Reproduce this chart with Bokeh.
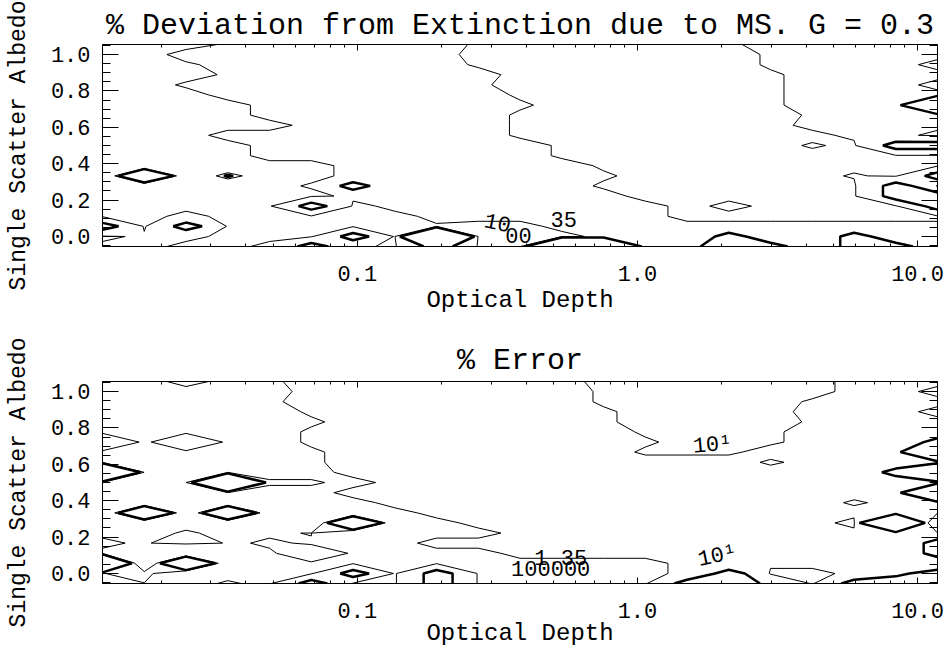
import numpy as np
from bokeh.plotting import figure
from bokeh.models import LogAxis, LinearAxis, FixedTicker, PrintfTickFormatter
from bokeh.layouts import column
from bokeh.embed import file_html
from bokeh.resources import INLINE
from bokeh.core.properties import value

# ---------------- data ----------------
# optical depth grid (log spaced, 21 columns) and single scatter albedo grid (21 rows)
TAU = [0.0123, 0.01734, 0.02443, 0.03444, 0.04856, 0.06843, 0.09645, 0.1359,
       0.1916, 0.2701, 0.3806, 0.5366, 0.7562, 1.066, 1.503, 2.118, 2.985,
       4.208, 5.932, 8.360, 11.78]
ALBEDO = [-0.055, 0.0, 0.056, 0.111, 0.167, 0.222, 0.278, 0.333, 0.389, 0.444,
          0.5, 0.556, 0.611, 0.667, 0.722, 0.778, 0.833, 0.889, 0.944, 1.0, 1.055]

# each character of a row is one grid value (percent), decoded with this table
CODE_CHARS = "x.,io+*h#"
CODE_VALUES = [-300, 5, 8, 12, 15, 40, 80, 150, 900]

LEVELS = [10, 100]
LEVEL_WIDTHS = [1.0, 2.5]

# "% Deviation from Extinction due to MS" : rows from albedo 1.055 (top) down to -0.055
DEV_ROWS = [
    "...iooooo,.....,ooooo",
    "..ooooooo.......ioooo",
    "..,oooooo,......iooo.",
    "...ioooooo......,oooo",
    "..iooooooi......,ooo.",
    "...ooooooo,.....,oooo",
    "....ooooooi.....,ooo#",
    "....oooooo,......iooo",
    ".....ooooo,......oooo",
    "...ooooooo,.......oo.",
    "....ooooooo,.....i.hh",
    "....ooooooo,.........",
    ".x.x..oooooo,........",
    "x#xhx.ooooooi.....i.h",
    ".x.x.ihooooo,......h.",
    "......ooooooo......hh",
    ".....h.ooooooo.o....h",
    "..o.....oooooo.......",
    "h.h.....,..oooooooooo",
    ".oo...h.#...ooohoohoo",
    "oo..oho.h..##o*hhohho",
]

# "% Error"
ERR_ROWS = [
    "..o.,ooooooo......ooo",
    ".....ooooooo,.....oo.",
    "....,ooooooo,....iooo",
    ".....iooooooi....ooo.",
    ".....,ooooooi....iooo",
    ".....iooooooo,..,oooo",
    "+.+..ioooooooi..,oooh",
    ".....,ooooooo,,,oooo#",
    ".....,oooooooooo,oooo",
    "#.....oooooooooooooh#",
    "...#ii.oooooooooooooo",
    "......oooooooooooooo#",
    ".x.x...ooooooooooo,oo",
    "x#x#x.x.ooooooooooooo",
    ".x.x.x#x.ooooooooo.#x",
    "..i..ix...ooooooooooo",
    "o.+.o...ooooooooooooh",
    "..x..+....ooooooooooh",
    "#x#x..........ooooooo",
    ".*x...h.h.....oh..o*h",
    "...i.h..h.....hh*.hhh",
]

# contour labels
DEV_LABEL_TEXT = ["10", "00", "35"]
DEV_LABEL_X = [0.317, 0.376, 0.545]
DEV_LABEL_Y = [0.077, 0.005, 0.093]
DEV_LABEL_ANGLE = [-12, 0, 0]

ERR_LABEL_TEXT = ["10\u00b9", "10\u00b9", "100000", "1.35"]
ERR_LABEL_X = [1.856, 1.933, 0.49, 0.532]
ERR_LABEL_Y = [0.703, 0.093, 0.027, 0.088]
ERR_LABEL_ANGLE = [5, 12, 0, 0]

X_TICKS = [0.1, 1.0, 10.0]
X_TICK_LABELS = ["0.1", "1.0", "10.0"]
X_MINOR = [0.02, 0.03, 0.04, 0.05, 0.06, 0.07, 0.08, 0.09,
           0.2, 0.3, 0.4, 0.5, 0.6, 0.7, 0.8, 0.9,
           2, 3, 4, 5, 6, 7, 8, 9]
Y_TICKS = [0.0, 0.2, 0.4, 0.6, 0.8, 1.0]
Y_TICK_LABELS = ["0.0", "0.2", "0.4", "0.6", "0.8", "1.0"]
Y_MINOR = [-0.05, 0.0, 0.05, 0.1, 0.15, 0.2, 0.25, 0.3, 0.35, 0.4, 0.45, 0.5,
           0.55, 0.6, 0.65, 0.7, 0.75, 0.8, 0.85, 0.9, 0.95, 1.0, 1.05]

FONT = "Liberation Mono"


def decode(rows):
    table = dict(zip(CODE_CHARS, CODE_VALUES))
    for r in rows:
        assert len(r) == len(TAU), (r, len(r))
    grid = [[table[c] for c in row] for row in reversed(rows)]
    return np.array(grid, dtype=float)


def style_axis(ax, tick_in, minor_in, labels):
    ax.axis_line_color = "black"
    ax.major_tick_line_color = "black"
    ax.minor_tick_line_color = "black"
    ax.major_tick_in = tick_in
    ax.major_tick_out = 0
    ax.minor_tick_in = minor_in
    ax.minor_tick_out = 0
    if labels:
        ax.major_label_text_font = FONT
        ax.major_label_text_font_size = "22px"
        ax.major_label_text_color = "black"
        ax.axis_label_text_font = FONT
        ax.axis_label_text_font_style = "normal"
        ax.axis_label_text_color = "black"
    else:
        ax.major_label_text_font_size = "1px"
        ax.major_label_text_alpha = 0
        ax.major_label_standoff = 0


def make_panel(title, rows, lt, lx, ly, la, height, btop, bbottom, tstand, xlab_stand):
    p = figure(width=946, height=height, x_axis_type="log",
               x_range=(TAU[0], TAU[-1]), y_range=(ALBEDO[0], ALBEDO[-1]),
               output_backend="svg", toolbar_location=None,
               min_border_left=102, min_border_right=9,
               min_border_top=btop, min_border_bottom=bbottom,
               title=title)
    p.background_fill_color = "white"
    p.border_fill_color = "white"
    p.outline_line_color = "black"
    p.outline_line_width = 1
    p.grid.visible = False

    p.title.text_font = FONT
    p.title.text_font_size = "30px"
    p.title.text_font_style = "normal"
    p.title.text_color = "black"
    p.title.align = "center"
    p.title.standoff = tstand

    z = decode(rows)
    p.contour(TAU, ALBEDO, z, LEVELS, line_color="black", line_width=LEVEL_WIDTHS)

    p.text(x=lx, y=ly, text=lt, angle=la, angle_units="deg",
           text_font=value(FONT), text_font_size="22px",
           text_align="center", text_baseline="middle", text_color="black")

    xt = FixedTicker(ticks=X_TICKS, minor_ticks=X_MINOR)
    yt = FixedTicker(ticks=Y_TICKS, minor_ticks=Y_MINOR)

    xa = p.xaxis[0]
    xa.ticker = xt
    xa.formatter = PrintfTickFormatter(format="%.1f")
    xa.axis_label = "Optical Depth"
    style_axis(xa, 6, 3, True)
    xa.axis_label_text_font_size = "24px"
    xa.major_label_standoff = 19
    xa.axis_label_standoff = xlab_stand

    ya = p.yaxis[0]
    ya.ticker = yt
    ya.formatter = PrintfTickFormatter(format="%.1f")
    ya.axis_label = "Single Scatter Albedo"
    style_axis(ya, 16, 8, True)
    ya.axis_label_text_font_size = "23px"
    ya.major_label_standoff = 12
    ya.axis_label_standoff = 16

    top = LogAxis(ticker=FixedTicker(ticks=X_TICKS, minor_ticks=X_MINOR))
    style_axis(top, 6, 3, False)
    p.add_layout(top, "above")
    right = LinearAxis(ticker=FixedTicker(ticks=Y_TICKS, minor_ticks=Y_MINOR))
    style_axis(right, 16, 8, False)
    p.add_layout(right, "right")
    return p


p1 = make_panel("% Deviation from Extinction due to MS. G = 0.3", DEV_ROWS,
                DEV_LABEL_TEXT, DEV_LABEL_X, DEV_LABEL_Y, DEV_LABEL_ANGLE,
                321, 44, 75, 3, 3)
p2 = make_panel("% Error", ERR_ROWS,
                ERR_LABEL_TEXT, ERR_LABEL_X, ERR_LABEL_Y, ERR_LABEL_ANGLE,
                331, 60, 69, 7, -1)

layout = column(p1, p2, spacing=0)
open("out.html", "w").write(file_html(layout, INLINE))
